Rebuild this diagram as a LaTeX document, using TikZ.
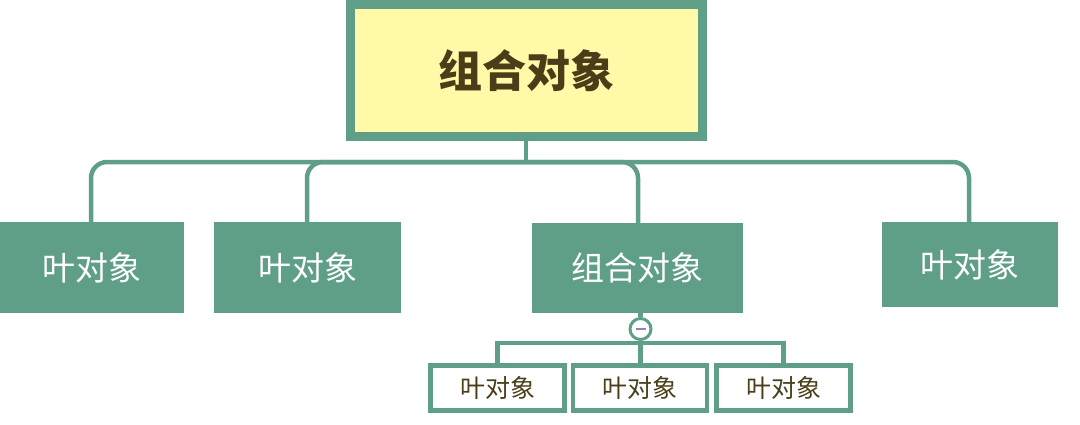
\documentclass[tikz,border=0pt]{standalone}
\usepackage{fontspec}
\setmainfont{Noto Sans CJK SC}
\definecolor{grn}{HTML}{5F9E87}
\definecolor{ylw}{HTML}{FFF9A8}
\definecolor{dtext}{HTML}{4A3E18}
\definecolor{minusc}{HTML}{8C82B4}
\tikzset{
  topbox/.style={draw=grn, line width=9pt, fill=ylw, minimum width=352pt, minimum height=132pt, inner sep=0pt, font=\fontsize{44}{48}\selectfont\bfseries, text=dtext},
  leafbox/.style={fill=grn, inner sep=0pt, font=\fontsize{33}{36}\selectfont, text=white},
  smallbox/.style={draw=grn, line width=4.5pt, fill=white, minimum width=134pt, minimum height=45pt, inner sep=0pt, font=\fontsize{25}{28}\selectfont, text=dtext},
  conn/.style={draw=grn, line width=4.5pt},
  toggle/.style={circle, draw=grn, line width=3pt, fill=white, minimum size=21pt, inner sep=0pt}
}
\begin{document}
\begin{tikzpicture}[x=1pt,y=-1pt]
\useasboundingbox (0,0) rectangle (1080,424);
% coordinates
\coordinate (j) at (526,162);
\coordinate (j2) at (640.5,343);
% connectors (behind)
\draw[conn] (526,141) -- (j);
\draw[conn, rounded corners=16pt] (j) -| (91,222);
\draw[conn, rounded corners=16pt] (j) -| (307,222);
\draw[conn, rounded corners=16pt] (j) -| (638,223);
\draw[conn, rounded corners=16pt] (j) -| (969,222);
% nodes
\node[topbox] (top) at (526,70.5) {组合对象};
\node[leafbox, minimum width=184pt, minimum height=91pt] (l1) at (92,267.5) {\raisebox{-4pt}{叶对象}\hspace{17pt}};
\node[leafbox, minimum width=187pt, minimum height=91pt] (l2) at (307.5,267.5) {\raisebox{-4pt}{叶对象}\hspace{14pt}};
\node[leafbox, minimum width=211pt, minimum height=90pt] (l3) at (637.5,268) {\raisebox{-2pt}{组合对象}\hspace{2pt}};
\node[leafbox, minimum width=176pt, minimum height=85pt] (l4) at (970,264.5) {\raisebox{-1pt}{叶对象}\hspace{3pt}};
\node[toggle] (c) at (640.5,329) {};
\draw[conn] (l3.south -| c) -- (c.north);
\draw[minusc, line width=1.5pt] ([xshift=-5pt]c.center) -- ([xshift=5pt]c.center);
\node[smallbox] (s1) at (497.5,388) {叶对象};
\node[smallbox] (s2) at (640,388) {叶对象};
\node[smallbox] (s3) at (783.5,388) {叶对象};
\draw[conn] (c.south) -- (j2);
\draw[conn] (j2) -| (s1.north);
\draw[conn] (j2) -- (j2 |- s2.north);
\draw[conn] (j2) -| (s3.north);
\end{tikzpicture}
\end{document}
